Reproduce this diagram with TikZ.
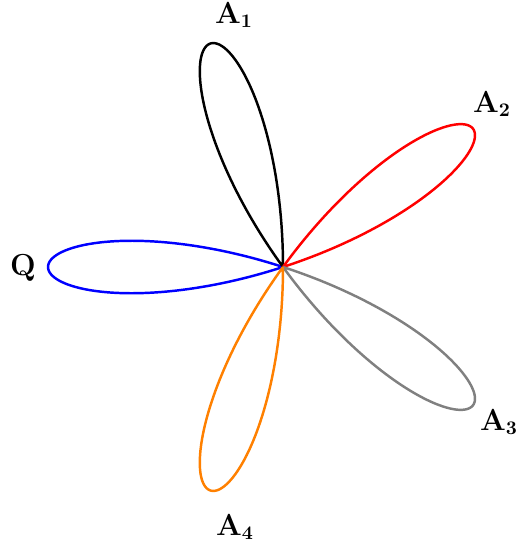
\documentclass[tikz,border=0pt]{standalone}
\usepackage{amsmath}

\begin{document}
\begin{tikzpicture}[font=\fontsize{16}{19}\selectfont, petal/.style={line width=1.4pt}]
    % ================= Parameters =================
    \def\R{4.7}        % Petal length (rose r = -R cos(5 theta))
    \def\half{18}      % Half opening of one petal (degrees)

    % Canvas, centre of the rose at the origin
    \path[use as bounding box] (-5.66, -5.62) rectangle (4.70, 5.34);

    \coordinate (O) at (0,0);

    % ================= Petals =================
    % axis angle / colour / label / label position
    \foreach \ang/\col/\lab/\pos in {180/blue/Q/{(-5.20,-0.02)},
                                     108/black/A_1/{(-0.98,5.04)},
                                     36/red/A_2/{(4.18,3.26)},
                                     -36/gray/A_3/{(4.32,-3.10)},
                                     -108/orange/A_4/{(-0.96,-5.20)}}
    {
        \draw[petal, \col] plot[domain={\ang-\half}:{\ang+\half}, samples=90, smooth]
            ({-\R*cos(5*\x)*cos(\x)}, {-\R*cos(5*\x)*sin(\x)});
        \node (\lab) at \pos {$\mathbf{\lab}$};
    }

\end{tikzpicture}
\end{document}
